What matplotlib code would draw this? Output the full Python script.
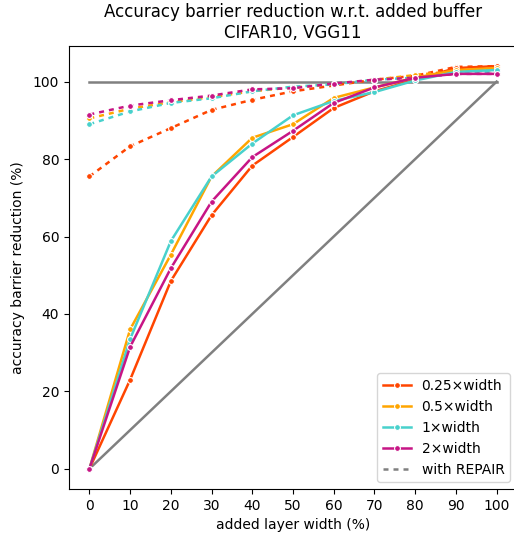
import numpy as np
import matplotlib
matplotlib.use("Agg")
import matplotlib.pyplot as plt
from matplotlib.lines import Line2D

widths = [0, 10, 20, 30, 40, 50, 60, 70, 80, 90, 100]
labels = ["0.25×width", "0.5×width", "1×width", "2×width"]
colors = ["orangered", "orange", "mediumturquoise", "mediumvioletred"]

# plain barrier reduction (%)
plain = [
    [0, 23.0, 48.5, 65.5, 78.3, 85.7, 93.2, 97.5, 100.5, 103.5, 104.0],
    [0, 36.0, 55.3, 75.5, 85.5, 89.0, 95.8, 98.5, 101.0, 103.0, 103.5],
    [0, 33.5, 58.8, 75.5, 84.0, 91.3, 95.0, 97.3, 100.3, 102.5, 103.0],
    [0, 31.5, 51.8, 69.0, 80.5, 87.3, 94.5, 98.5, 101.0, 102.0, 102.0],
]
# with REPAIR
repair = [
    [75.5, 83.3, 88.0, 92.7, 95.3, 97.5, 99.0, 100.5, 101.5, 103.8, 104.0],
    [90.5, 93.0, 94.7, 96.0, 97.5, 98.5, 99.3, 100.5, 101.7, 102.8, 103.0],
    [89.0, 92.3, 94.5, 95.7, 97.5, 98.7, 99.3, 100.5, 101.0, 102.5, 102.5],
    [91.5, 93.8, 95.2, 96.4, 98.0, 98.3, 99.5, 100.5, 101.0, 102.0, 102.0],
]

fig = plt.figure(figsize=(5.14, 5.36), dpi=100)
ax = fig.add_axes([69 / 514, 47 / 536, 448 / 514, 443 / 536])
ax.spines["right"].set_visible(False)  # cropped off in the original

ax.plot([0, 100], [100, 100], color="gray", lw=1.8)
ax.plot([0, 100], [0, 100], color="gray", lw=1.8)

mk = dict(marker="o", markersize=4.2, markeredgecolor="white", markeredgewidth=0.8)
for i in range(4):
    ax.plot(widths, repair[i], color=colors[i], lw=1.8, ls=(0, (2, 2)), **mk)
for i in range(4):
    ax.plot(widths, plain[i], color=colors[i], lw=1.8, **mk)

ax.set_xticks(widths)
ax.set_xlabel("added layer width (%)")
ax.set_ylabel("accuracy barrier reduction (%)", labelpad=6)
ax.set_title("Accuracy barrier reduction w.r.t. added buffer\nCIFAR10, VGG11")

handles = [Line2D([], [], color=c, lw=1.8, **mk) for c in colors]
handles.append(Line2D([], [], color="gray", lw=1.8, ls=(0, (2, 2))))
ax.legend(handles, labels + ["with REPAIR"], loc="lower right")

fig.savefig("out.png", dpi=100)
